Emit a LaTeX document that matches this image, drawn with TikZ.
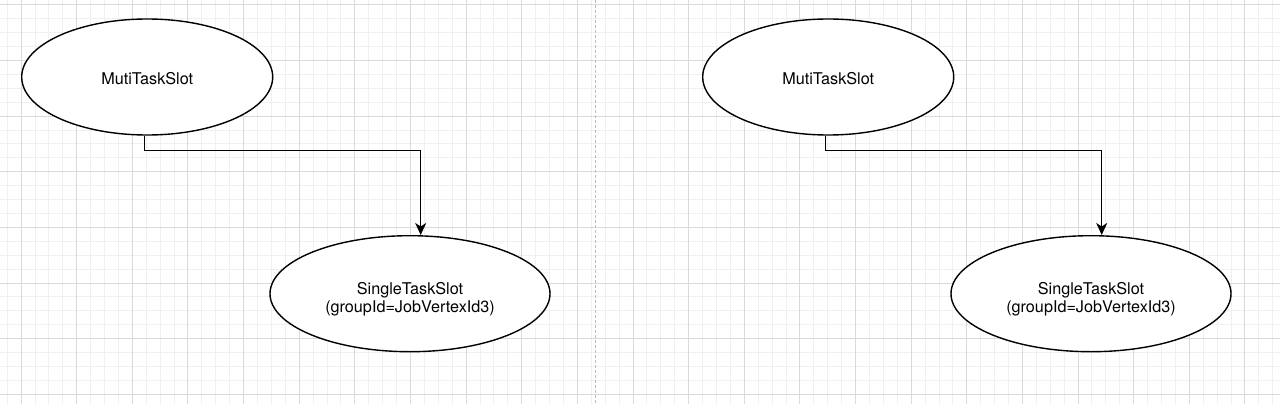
\documentclass[tikz,border=0pt]{standalone}
\usepackage{fontspec}
\setmainfont{TeX Gyre Heros}
\usetikzlibrary{shapes.geometric,arrows.meta}
\definecolor{gridminor}{HTML}{F0F0F0}
\definecolor{gridmajor}{HTML}{DADADA}
\definecolor{divider}{HTML}{BDBDBD}
\tikzset{
  ell/.style={ellipse, draw=black, line width=1.4pt, fill=white, inner sep=0pt},
  topell/.style={ell, minimum width=251pt, minimum height=116pt, text height=15.8pt, text depth=0pt},
  lowell/.style={ell, minimum width=280pt, minimum height=116pt},
  lbl/.style={inner sep=0pt, align=center},
  conn/.style={draw=black, line width=1.4pt, -{Stealth[length=12pt,width=11pt,inset=3.5pt]}},
  gminor/.style={draw=gridminor, line width=0.8pt},
  gmajor/.style={draw=gridmajor, line width=0.8pt},
}
\begin{document}
\begin{tikzpicture}[x=1pt,y=-1pt,font=\fontsize{16.2pt}{18pt}\selectfont]
\useasboundingbox[fill=white] (0,0) rectangle (1280,404);
% grid
\foreach \i in {-2,...,92} {
  \draw[gminor] ({21+13.9075*\i},0) -- ++(0,404);
}
\foreach \i in {-1,...,29} {
  \draw[gminor] (0,{4.8+13.9075*\i}) -- ++(1280,0);
}
\foreach \i in {0,...,22} {
  \draw[gmajor] ({21+55.63*\i},0) -- ++(0,404);
}
\foreach \i in {0,...,7} {
  \draw[gmajor] (0,{4.8+55.63*\i}) -- ++(1280,0);
}
% divider
\draw[divider, line width=0.9pt, dash pattern=on 3pt off 2pt] (595.7,0) -- (595.7,404);
% left diagram
\node[topell] (a1) at (147.2,77) {MutiTaskSlot};
\node[lowell] (b1) at (410,293.7) {};
\node[lbl] (b1t) at (410,298.8) {SingleTaskSlot\\(groupId=JobVertexId3)};
\draw[conn] ([xshift=-2.5pt]a1.south) -- ++(0,14.5) -| ([xshift=10.7pt]b1.north);
% right diagram
\node[topell] (a2) at (828.2,77) {MutiTaskSlot};
\node[lowell] (b2) at (1091,293.7) {};
\node[lbl] (b2t) at (1091,298.8) {SingleTaskSlot\\(groupId=JobVertexId3)};
\draw[conn] ([xshift=-2.5pt]a2.south) -- ++(0,14.5) -| ([xshift=10.7pt]b2.north);
\end{tikzpicture}
\end{document}
